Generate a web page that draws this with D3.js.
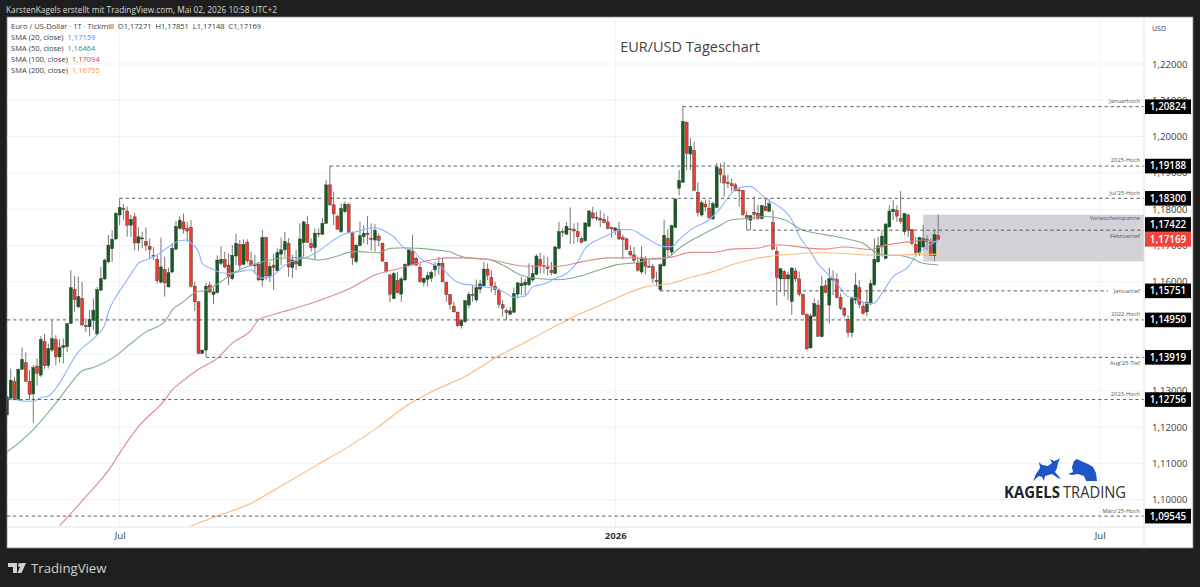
<!DOCTYPE html>
<html>
<head>
<meta charset="utf-8">
<script src="https://cdnjs.cloudflare.com/ajax/libs/d3/7.8.5/d3.min.js"></script>
<style>
  body { margin: 0; background: #1e1e1e; }
  svg { display: block; }
  text { font-family: "Open Sans", sans-serif; }
</style>
</head>
<body>
<svg width="1200" height="587"></svg>
<script>
// daily candles, bar 0 is the first one at the left edge
const opens = [
  1.1233,1.1279,1.1325,1.1276,1.1359,1.1377,1.1326,1.1291,1.1368,1.1343,
  1.1435,1.1369,1.1412,1.1441,1.1393,1.1419,1.1421,1.1485,1.1579,1.1531,
  1.1554,1.1479,1.1476,1.1494,1.1456,1.1577,1.1608,1.1655,1.1691,1.1718,
  1.1784,1.1802,1.1795,1.1756,1.1779,1.1707,1.1718,1.1711,1.1698,1.1673,
  1.1662,1.1599,1.1634,1.1586,1.1627,1.1690,1.1747,1.1765,1.1747,1.1750,
  1.1588,1.1545,1.1403,1.1412,1.1591,1.1565,1.1570,1.1651,1.1662,1.1646,
  1.1609,1.1671,1.1703,1.1648,1.1709,1.1658,1.1647,1.1648,1.1605,1.1722,
  1.1614,1.1646,1.1630,1.1676,1.1688,1.1706,1.1639,1.1657,1.1644,1.1708,
  1.1758,1.1706,1.1694,1.1734,1.1731,1.1761,1.1867,1.1812,1.1781,1.1738,
  1.1793,1.1813,1.1735,1.1656,1.1700,1.1724,1.1734,1.1720,1.1715,1.1726,
  1.1706,1.1654,1.1619,1.1554,1.1603,1.1566,1.1605,1.1645,1.1683,1.1665,
  1.1640,1.1598,1.1607,1.1610,1.1633,1.1645,1.1651,1.1599,1.1565,1.1533,
  1.1516,1.1479,1.1490,1.1536,1.1566,1.1550,1.1580,1.1589,1.1635,1.1612,
  1.1588,1.1577,1.1537,1.1521,1.1511,1.1516,1.1566,1.1589,1.1591,1.1592,
  1.1605,1.1621,1.1662,1.1644,1.1639,1.1632,1.1623,1.1692,1.1739,1.1731,
  1.1746,1.1745,1.1738,1.1719,1.1713,1.1753,1.1790,1.1778,1.1775,1.1772,
  1.1765,1.1749,1.1742,1.1744,1.1722,1.1718,1.1684,1.1674,1.1651,1.1627,
  1.1664,1.1643,1.1642,1.1604,1.1578,1.1644,1.1720,1.1682,1.1750,1.1858,
  1.1874,1.2039,1.1952,1.1962,1.1847,1.1784,1.1814,1.1803,1.1773,1.1805,
  1.1911,1.1892,1.1874,1.1870,1.1867,1.1853,1.1852,1.1783,1.1770,1.1792,
  1.1789,1.1774,1.1808,1.1794,1.1764,1.1684,1.1608,1.1628,1.1608,1.1546,
  1.1630,1.1608,1.1565,1.1510,1.1418,1.1505,1.1536,1.1449,1.1589,1.1536,
  1.1609,1.1606,1.1557,1.1527,1.1497,1.1460,1.1550,1.1584,1.1533,1.1517,
  1.1539,1.1592,1.1655,1.1696,1.1664,1.1751,1.1793,1.1797,1.1774,1.1738,
  1.1784,1.1744,1.1703,1.1680,1.1696,1.1717,1.1708,1.1672,1.17271
];
const highs = [
  1.1283,1.1361,1.1338,1.1361,1.1419,1.1405,1.1357,1.1371,1.1389,1.1450,
  1.1456,1.1430,1.1494,1.1453,1.1441,1.1444,1.1485,1.1632,1.1616,1.1614,
  1.1600,1.1499,1.1522,1.1554,1.1586,1.1641,1.1664,1.1729,1.1742,1.1793,
  1.1830,1.1814,1.1807,1.1784,1.1790,1.1751,1.1738,1.1750,1.1719,1.1696,
  1.1673,1.1722,1.1669,1.1639,1.1707,1.1768,1.1781,1.1788,1.1765,1.1770,
  1.1600,1.1545,1.1412,1.1597,1.1600,1.1584,1.1673,1.1698,1.1683,1.1678,
  1.1701,1.1732,1.1715,1.1717,1.1717,1.1683,1.1674,1.1655,1.1743,1.1724,
  1.1655,1.1678,1.1692,1.1722,1.1738,1.1720,1.1674,1.1688,1.1761,1.1768,
  1.1782,1.1720,1.1747,1.1747,1.1775,1.1880,1.1920,1.1848,1.1784,1.1816,
  1.1821,1.1818,1.1738,1.1703,1.1766,1.1756,1.1781,1.1761,1.1759,1.1734,
  1.1708,1.1655,1.1621,1.1628,1.1628,1.1614,1.1651,1.1690,1.1729,1.1669,
  1.1651,1.1612,1.1628,1.1631,1.1655,1.1669,1.1667,1.1601,1.1566,1.1545,
  1.1519,1.1494,1.1550,1.1572,1.1591,1.1606,1.1605,1.1655,1.1651,1.1632,
  1.1600,1.1582,1.1550,1.1527,1.1531,1.1584,1.1600,1.1614,1.1609,1.1651,
  1.1646,1.1676,1.1681,1.1673,1.1669,1.1655,1.1699,1.1765,1.1747,1.1765,
  1.1805,1.1761,1.1763,1.1724,1.1765,1.1797,1.1807,1.1793,1.1797,1.1788,
  1.1781,1.1752,1.1751,1.1765,1.1730,1.1722,1.1701,1.1696,1.1669,1.1698,
  1.1671,1.1660,1.1649,1.1628,1.1651,1.1771,1.1745,1.1757,1.1830,1.1908,
  1.2085,1.2042,1.1997,1.1986,1.1874,1.1823,1.1826,1.1826,1.1821,1.1927,
  1.1927,1.1930,1.1895,1.1885,1.1872,1.1858,1.1853,1.1794,1.1783,1.1835,
  1.1812,1.1812,1.1830,1.1829,1.1798,1.1697,1.1638,1.1633,1.1628,1.1640,
  1.1638,1.1628,1.1568,1.1513,1.1513,1.1554,1.1550,1.1617,1.1605,1.1639,
  1.1632,1.1623,1.1568,1.1531,1.1508,1.1559,1.1625,1.1605,1.1545,1.1577,
  1.1606,1.1719,1.1724,1.1742,1.1762,1.1811,1.1825,1.1811,1.1850,1.1790,
  1.1788,1.1744,1.1724,1.1724,1.1756,1.1729,1.1719,1.1742,1.17851
];
const lows = [
  1.1233,1.1274,1.1274,1.1274,1.1357,1.1325,1.1274,1.1212,1.1314,1.1338,
  1.1359,1.1361,1.1407,1.1370,1.1377,1.1375,1.1407,1.1485,1.1517,1.1527,
  1.1479,1.1462,1.1450,1.1467,1.1453,1.1574,1.1605,1.1651,1.1655,1.1715,
  1.1756,1.1770,1.1724,1.1724,1.1687,1.1685,1.1692,1.1685,1.1664,1.1660,
  1.1595,1.1595,1.1559,1.1584,1.1623,1.1687,1.1744,1.1733,1.1710,1.1584,
  1.1520,1.1401,1.1401,1.1393,1.1568,1.1538,1.1568,1.1646,1.1637,1.1591,
  1.1605,1.1646,1.1633,1.1646,1.1651,1.1642,1.1623,1.1603,1.1587,1.1605,
  1.1600,1.1578,1.1628,1.1646,1.1669,1.1614,1.1610,1.1633,1.1642,1.1669,
  1.1706,1.1683,1.1660,1.1722,1.1729,1.1759,1.1809,1.1756,1.1743,1.1735,
  1.1789,1.1734,1.1646,1.1651,1.1697,1.1706,1.1703,1.1686,1.1683,1.1697,
  1.1655,1.1625,1.1543,1.1552,1.1568,1.1545,1.1603,1.1642,1.1646,1.1644,
  1.1598,1.1587,1.1588,1.1600,1.1614,1.1619,1.1598,1.1545,1.1524,1.1516,
  1.1476,1.1471,1.1487,1.1527,1.1545,1.1545,1.1568,1.1586,1.1605,1.1572,
  1.1563,1.1527,1.1504,1.1494,1.1508,1.1515,1.1554,1.1563,1.1563,1.1588,
  1.1600,1.1618,1.1623,1.1623,1.1618,1.1618,1.1621,1.1690,1.1724,1.1729,
  1.1704,1.1704,1.1710,1.1706,1.1710,1.1751,1.1772,1.1768,1.1751,1.1761,
  1.1744,1.1722,1.1729,1.1715,1.1662,1.1687,1.1669,1.1651,1.1628,1.1621,
  1.1620,1.1639,1.1596,1.1587,1.1573,1.1642,1.1665,1.1674,1.1748,1.1838,
  1.1873,1.1908,1.1908,1.1851,1.1780,1.1780,1.1794,1.1773,1.1771,1.1803,
  1.1872,1.1835,1.1858,1.1849,1.1849,1.1807,1.1780,1.1743,1.1743,1.1771,
  1.1771,1.1771,1.1795,1.1792,1.1688,1.1535,1.1573,1.1560,1.1550,1.1509,
  1.1601,1.1560,1.1508,1.1414,1.1416,1.1504,1.1449,1.1447,1.1568,1.1485,
  1.1563,1.1554,1.1522,1.1502,1.1447,1.1447,1.1540,1.1527,1.1510,1.1505,
  1.1536,1.1588,1.1652,1.1669,1.1662,1.1750,1.1770,1.1765,1.1761,1.1729,
  1.1724,1.1701,1.1673,1.1671,1.1692,1.1687,1.1671,1.1657,1.17148
];
const closes = [
  1.1283,1.1329,1.1279,1.1359,1.1386,1.1326,1.1290,1.1364,1.1348,1.1441,
  1.1369,1.1416,1.1444,1.1393,1.1419,1.1424,1.1485,1.1584,1.1551,1.1559,
  1.1481,1.1476,1.1496,1.1522,1.1579,1.1609,1.1660,1.1701,1.1717,1.1788,
  1.1805,1.1799,1.1756,1.1772,1.1707,1.1724,1.1721,1.1700,1.1689,1.1669,
  1.1603,1.1641,1.1597,1.1625,1.1692,1.1753,1.1770,1.1745,1.1740,1.1588,
  1.1545,1.1403,1.1412,1.1588,1.1572,1.1572,1.1660,1.1662,1.1641,1.1614,
  1.1673,1.1706,1.1646,1.1703,1.1658,1.1646,1.1644,1.1605,1.1722,1.1616,
  1.1642,1.1639,1.1681,1.1688,1.1711,1.1641,1.1660,1.1649,1.1718,1.1765,
  1.1709,1.1694,1.1734,1.1732,1.1761,1.1867,1.1812,1.1787,1.1745,1.1802,
  1.1814,1.1736,1.1666,1.1701,1.1727,1.1734,1.1730,1.1717,1.1742,1.1714,
  1.1657,1.1628,1.1566,1.1623,1.1570,1.1608,1.1648,1.1688,1.1648,1.1646,
  1.1600,1.1610,1.1617,1.1626,1.1645,1.1651,1.1600,1.1565,1.1538,1.1517,
  1.1479,1.1493,1.1548,1.1565,1.1563,1.1584,1.1594,1.1635,1.1618,1.1589,
  1.1579,1.1538,1.1527,1.1515,1.1520,1.1568,1.1597,1.1595,1.1599,1.1612,
  1.1623,1.1671,1.1645,1.1642,1.1637,1.1625,1.1696,1.1738,1.1737,1.1753,
  1.1744,1.1740,1.1724,1.1709,1.1762,1.1795,1.1776,1.1776,1.1770,1.1764,
  1.1747,1.1746,1.1748,1.1718,1.1717,1.1689,1.1674,1.1659,1.1632,1.1666,
  1.1643,1.1640,1.1610,1.1600,1.1647,1.1728,1.1688,1.1755,1.1828,1.1879,
  1.2042,1.1954,1.1973,1.1852,1.1791,1.1818,1.1806,1.1777,1.1815,1.1916,
  1.1895,1.1872,1.1871,1.1865,1.1852,1.1851,1.1785,1.1773,1.1782,1.1786,
  1.1774,1.1810,1.1796,1.1815,1.1690,1.1612,1.1636,1.1608,1.1619,1.1638,
  1.1608,1.1566,1.1510,1.1415,1.1506,1.1540,1.1450,1.1588,1.1571,1.1609,
  1.1605,1.1557,1.1527,1.1508,1.1460,1.1554,1.1591,1.1538,1.1513,1.1543,
  1.1595,1.1662,1.1699,1.1726,1.1759,1.1795,1.1800,1.1781,1.1767,1.1788,
  1.1742,1.1706,1.1680,1.1722,1.1719,1.1712,1.1673,1.1730,1.17169
];

// moving averages, read at these bars
const sma20Bars = [0,3,5,7,9,11,13,15,17,19,21,24,26,27,29,32,34,35,38,41,43,46,48,49,51,52,55,57,59,
  62,65,67,68,71,74,77,79,82,84,87,91,93,96,98,100,103,106,108,110,114,116,118,121,124,127,130,133,135,138,140,143,146,149,152,154,158,160,163,166,169,172,175,177,179,182,187,190,193,195,198,200,202,205,209,211,214,216,218,220,222,224,226,229,231,233,236,240,242,245,248];
const sma20 = [1.1277,1.1274,1.1271,1.1271,1.1281,1.1285,1.1306,1.1338,1.1375,1.1407,1.1426,1.1453,1.1481,1.1517,1.1559,1.1605,1.1637,1.1651,1.1664,1.1681,1.1696,1.1713,1.1715,1.1706,1.1683,1.1651,1.1634,1.1625,1.1623,
  1.1628,1.1633,1.1614,1.1610,1.1619,1.1646,1.1660,1.1665,1.1678,1.1692,1.1715,1.1735,1.1738,1.1747,1.1749,1.1743,1.1724,1.1692,1.1688,1.1665,1.1646,1.1637,1.1614,1.1595,1.1591,1.1586,1.1582,1.1568,1.1557,1.1561,1.1586,1.1594,1.1609,1.1623,1.1655,1.1692,1.1719,1.1729,1.1742,1.1744,1.1729,1.1710,1.1697,1.1697,1.1716,1.1743,1.1771,1.1803,1.1844,1.1860,1.1863,1.1849,1.1829,1.1812,1.1771,1.1726,1.1683,1.1649,1.1628,1.1609,1.1582,1.1559,1.1556,1.1540,1.1542,1.1568,1.1614,1.1641,1.1671,1.1696,1.1716];
const sma50Bars = [0,7,10,14,17,20,23,29,33,37,42,44,47,50,53,57,60,64,68,73,78,83,88,91,94,99,102,106,110,114,118,120,124,128,132,137,141,147,152,158,162,169,171,176,178,181,185,189,193,198,202,207,212,216,220,225,228,231,234,237,241,244,248];
const sma50 = [1.1131,1.1193,1.1228,1.1279,1.1320,1.1355,1.1364,1.1396,1.1430,1.1462,1.1490,1.1522,1.1545,1.1570,1.1577,1.1600,1.1623,1.1642,1.1655,1.1665,1.1667,1.1660,1.1671,1.1681,1.1683,1.1680,1.1692,1.1694,1.1692,1.1688,1.1683,1.1673,1.1664,1.1662,1.1646,1.1618,1.1609,1.1606,1.1614,1.1634,1.1646,1.1655,1.1663,1.1667,1.1684,1.1706,1.1729,1.1750,1.1771,1.1775,1.1780,1.1771,1.1742,1.1733,1.1726,1.1715,1.1706,1.1683,1.1673,1.1673,1.1664,1.1651,1.16464];
const sma100Bars = [14,21,28,30,35,42,44,46,51,56,60,65,67,71,75,83,92,98,103,107,114,118,121,128,133,138,147,153,160,167,171,177,182,188,193,200,204,209,214,218,223,230,234,240,244,248];
const sma100 = [1.0928,1.1008,1.1095,1.1128,1.1201,1.1274,1.1302,1.1320,1.1359,1.1389,1.1431,1.1467,1.1495,1.1510,1.1522,1.1548,1.1585,1.1619,1.1633,1.1644,1.1662,1.1666,1.1666,1.1662,1.1651,1.1643,1.1643,1.1655,1.1666,1.1666,1.1662,1.1668,1.1681,1.1681,1.1690,1.1693,1.1702,1.1699,1.1692,1.1690,1.1696,1.1689,1.1701,1.1710,1.1715,1.17094];
const sma200Bars = [49,57,65,72,78,84,91,99,106,114,121,131,139,145,151,157,164,170,177,182,188,193,199,203,209,217,226,231,235,244,248];
const sma200 = [1.0928,1.0958,1.0990,1.1031,1.1068,1.1104,1.1146,1.1201,1.1256,1.1302,1.1334,1.1396,1.1439,1.1472,1.1504,1.1531,1.1563,1.1586,1.1596,1.1612,1.1628,1.1647,1.1663,1.1670,1.1676,1.1680,1.1676,1.1673,1.1673,1.1676,1.16755];

// price levels with their labels and the bar where each line starts
const levelPrices = [1.20824,1.19188,1.18300,1.17422,1.15751,1.14950,1.13919,1.12756,1.09545];
const levelLabels = ['Januarhoch','2025-Hoch',"Jul'25-Hoch",'Februartief','Januartief','2022 Hoch',"Aug'25-Tief",'2023-Hoch',"März'25-Hoch"];
const levelStartBars = [180,86,30,197,174,0,53,0,0];
const levelSides = ['above','above','above','below','on','above','below','above','above'];

const priceTicks = [1.10,1.11,1.12,1.13,1.14,1.15,1.16,1.17,1.18,1.19,1.20,1.21,1.22];
const timeTickBars = [30,162,291];
const timeTickLabels = ['Jul','2026','Jul'];
const rangeHigh = 1.1785, rangeLow = 1.1656, rangeStartBar = 244;
const lastClose = 1.17169;

const legendRows = [
  {name: 'SMA (20, close)', value: '1,17159', color: '#4f86ff'},
  {name: 'SMA (50, close)', value: '1,16464', color: '#4a8a52'},
  {name: 'SMA (100, close)', value: '1,17094', color: '#d8474a'},
  {name: 'SMA (200, close)', value: '1,16755', color: '#ff9a3d'}
];

const svg = d3.select('svg');
const plotRight = 1144, plotBottom = 527, plotLeft = 7, plotTop = 17;

const xScale = d3.scaleLinear().domain([0, 248]).range([7, 938.2]);
const yScale = d3.scaleLinear().domain([1.2, 1.1]).range([136.6, 499.6]);
const priceFmt = p => d3.format('.5f')(p).replace('.', ',');

// white panel
svg.append('rect')
    .attr('x', plotLeft).attr('y', plotTop)
    .attr('width', 1186).attr('height', 531)
    .attr('fill', '#fff').attr('stroke', '#8a8a8a').attr('stroke-width', 0.8);

svg.append('defs').append('clipPath').attr('id', 'plot')
  .append('rect')
    .attr('x', plotLeft).attr('y', plotTop)
    .attr('width', plotRight - plotLeft).attr('height', plotBottom - plotTop);

// grid
const grid = svg.append('g').attr('clip-path', 'url(#plot)');
grid.selectAll('line.h').data(priceTicks).enter().append('line')
    .attr('x1', plotLeft).attr('x2', plotRight)
    .attr('y1', d => yScale(d)).attr('y2', d => yScale(d))
    .attr('stroke', '#f0f1f5');
grid.selectAll('line.v').data(timeTickBars).enter().append('line')
    .attr('x1', d => xScale(d)).attr('x2', d => xScale(d))
    .attr('y1', plotTop).attr('y2', plotBottom)
    .attr('stroke', '#f0f1f5');

const chart = svg.append('g').attr('clip-path', 'url(#plot)');

// grey box of last week's range
chart.append('rect')
    .attr('x', xScale(rangeStartBar)).attr('width', plotRight - xScale(rangeStartBar))
    .attr('y', yScale(rangeHigh)).attr('height', yScale(rangeLow) - yScale(rangeHigh))
    .attr('fill', '#d2d2d8');

// candles
const bars = d3.range(opens.length);
chart.selectAll('line.wick').data(bars).enter().append('line')
    .attr('x1', d => xScale(d)).attr('x2', d => xScale(d))
    .attr('y1', d => yScale(highs[d])).attr('y2', d => yScale(lows[d]))
    .attr('stroke', '#777').attr('stroke-width', 1);
chart.selectAll('rect.body').data(bars).enter().append('rect')
    .attr('x', d => xScale(d) - 1.5)
    .attr('width', 3)
    .attr('y', d => yScale(Math.max(opens[d], closes[d])))
    .attr('height', d => Math.max(1, Math.abs(yScale(opens[d]) - yScale(closes[d]))))
    .attr('fill', d => closes[d] >= opens[d] ? '#155c22' : '#f2392c')
    .attr('stroke', '#333').attr('stroke-width', 0.4);

// moving averages
const drawSma = (barList, values, color) => {
    const line = d3.line()
        .x((d, i) => xScale(barList[i]))
        .y(d => yScale(d))
        .curve(d3.curveMonotoneX);
    chart.append('path').datum(values)
        .attr('d', line)
        .attr('fill', 'none')
        .attr('stroke', color)
        .attr('stroke-width', 1.1);
};
drawSma(sma20Bars, sma20, '#8db3ff');
drawSma(sma50Bars, sma50, '#84ad8a');
drawSma(sma100Bars, sma100, '#dc8a8e');
drawSma(sma200Bars, sma200, '#ffb97e');

// dashed levels
chart.selectAll('line.level').data(levelPrices).enter().append('line')
    .attr('x1', (d, i) => xScale(levelStartBars[i]))
    .attr('x2', plotRight)
    .attr('y1', d => yScale(d)).attr('y2', d => yScale(d))
    .attr('stroke', '#4a4a4a').attr('stroke-width', 0.9)
    .attr('stroke-dasharray', '3.2,3');

const labelDy = {above: -3.6, below: 7.4, on: 2};
svg.selectAll('rect.labelbg').data(levelPrices.filter((d, i) => levelSides[i] === 'on')).enter().append('rect')
    .attr('x', 1108).attr('width', 33)
    .attr('y', d => yScale(d) - 4).attr('height', 8).attr('fill', '#fff');
svg.selectAll('text.level').data(levelPrices).enter().append('text')
    .attr('x', 1140)
    .attr('y', (d, i) => yScale(d) + labelDy[levelSides[i]])
    .attr('text-anchor', 'end')
    .attr('font-size', 5.8)
    .attr('fill', '#555')
    .text((d, i) => levelLabels[i]);
svg.append('text')
    .attr('x', 1140).attr('y', yScale(rangeHigh) + 5.5)
    .attr('text-anchor', 'end').attr('font-size', 5.8).attr('fill', '#555')
    .text('Vorwochenspanne');

// axes
const yAxis = svg.append('g')
    .attr('transform', `translate(${plotRight},0)`)
    .call(d3.axisRight(yScale).tickValues(priceTicks).tickFormat(priceFmt).tickSize(0).tickPadding(8));
yAxis.select('.domain').remove();
yAxis.selectAll('text')
    .attr('font-size', 9.6).attr('font-family', '"Open Sans", sans-serif').attr('fill', '#3a3a3a');

const timeScale = d3.scaleLinear().domain(xScale.domain()).range(xScale.range());
const xAxis = svg.append('g')
    .attr('transform', `translate(0,${plotBottom})`)
    .call(d3.axisBottom(timeScale).tickValues(timeTickBars).tickFormat((d, i) => timeTickLabels[i]).tickSize(0).tickPadding(5));
xAxis.select('.domain').remove();
xAxis.selectAll('text')
    .attr('font-size', 9.6).attr('font-family', '"Open Sans", sans-serif').attr('fill', '#3a3a3a')
    .attr('font-weight', (d, i) => i === 1 ? 700 : 400);

svg.append('line').attr('x1', plotRight).attr('x2', plotRight).attr('y1', plotTop).attr('y2', 548).attr('stroke', '#e0e3eb');
svg.append('line').attr('x1', plotLeft).attr('x2', 1193).attr('y1', plotBottom).attr('y2', plotBottom).attr('stroke', '#e0e3eb');

svg.append('text').attr('x', 1152).attr('y', 30.5).attr('font-size', 7).attr('fill', '#3a3a3a').text('USD');

// boxes on the price axis, the 1,17422 one is pushed up by the last-price box
const boxes = svg.selectAll('g.box').data(levelPrices).enter().append('g')
    .attr('transform', d => `translate(1145,${yScale(d) - (d === 1.17422 ? 5.7 : 0)})`);
boxes.append('rect')
    .attr('y', -7.3).attr('width', 46).attr('height', 14.6).attr('fill', '#000');
boxes.append('text')
    .attr('x', 23).attr('y', 3.4)
    .attr('text-anchor', 'middle').attr('font-size', 9.8).attr('font-weight', 600).attr('fill', '#fff')
    .text(priceFmt);
const lastBox = svg.append('g').attr('transform', `translate(1145,${yScale(lastClose)})`);
lastBox.append('rect').attr('y', -7.3).attr('width', 46).attr('height', 14.6).attr('fill', '#f6403a');
lastBox.append('text')
    .attr('x', 23).attr('y', 3.4)
    .attr('text-anchor', 'middle').attr('font-size', 9.8).attr('font-weight', 600).attr('fill', '#fff')
    .text(priceFmt(lastClose));

// title and legend
svg.append('text').attr('x', 690).attr('y', 52)
    .attr('text-anchor', 'middle').attr('font-size', 14.5).attr('fill', '#444')
    .text('EUR/USD Tageschart');
svg.append('text').attr('x', 6).attr('y', 12.5).attr('font-size', 8.3).attr('fill', '#d8d8d8')
    .text('KarstenKagels erstellt mit TradingView.com, Mai 02, 2026 10:58 UTC+2');
svg.append('text').attr('x', 11).attr('y', 29).attr('font-size', 7.55).attr('fill', '#3c3c3c')
    .attr('xml:space', 'preserve')
    .text('Euro / US-Dollar · 1T · Tickmill  O1,17271  H1,17851  L1,17148  C1,17169');
const legend = svg.selectAll('text.legend').data(legendRows).enter().append('text')
    .attr('x', 11).attr('y', (d, i) => 40 + i * 11)
    .attr('font-size', 7.55).attr('fill', '#3c3c3c');
legend.append('tspan').text(d => d.name);
legend.append('tspan').attr('dx', 4).attr('fill', d => d.color).text(d => d.value);

// Kagels logo
const logo = svg.append('g').attr('fill', '#1c56c8');
logo.append('path').attr('d', 'M1033,481 L1036,474 L1040,468 L1039,462 L1042,465 L1048,466 L1052,463 L1050,459 L1054,461 L1057,460 L1060,458 L1058,463 L1057,468 L1055,472 L1061,479 L1058,478 L1052,474 L1045,476 L1044,481 L1042,477 L1039,476 Z');
logo.append('path').attr('d', 'M1068,474 L1073,472 L1072,467 L1074,461 L1077,459 L1081,461 L1088,464 L1093,467 L1096,473 L1097,481 L1091,481 L1086,481 L1084,476 L1078,474 L1072,475 Z');
svg.append('text').attr('x', 1004).attr('y', 498).attr('font-size', 16).attr('font-weight', 700)
    .attr('fill', '#222').attr('textLength', 56).attr('lengthAdjust', 'spacingAndGlyphs').text('KAGELS');
svg.append('text').attr('x', 1063).attr('y', 498).attr('font-size', 16)
    .attr('fill', '#333').attr('textLength', 63).attr('lengthAdjust', 'spacingAndGlyphs').text('TRADING');

// TradingView logo
const tv = svg.append('g').attr('fill', '#d0d0d0');
tv.append('path').attr('d', 'M8,563 L17,563 L17,573 L13,573 L13,567 L8,567 Z');
tv.append('circle').attr('cx', 20).attr('cy', 565).attr('r', 2);
tv.append('path').attr('d', 'M21.5,563 L26,563 L21.5,573 L17.5,573 Z');
svg.append('text').attr('x', 31).attr('y', 573).attr('font-family', 'Inter, sans-serif')
    .attr('font-size', 13.2).attr('font-weight', 500).attr('fill', '#d0d0d0').text('TradingView');
</script>
</body>
</html>
